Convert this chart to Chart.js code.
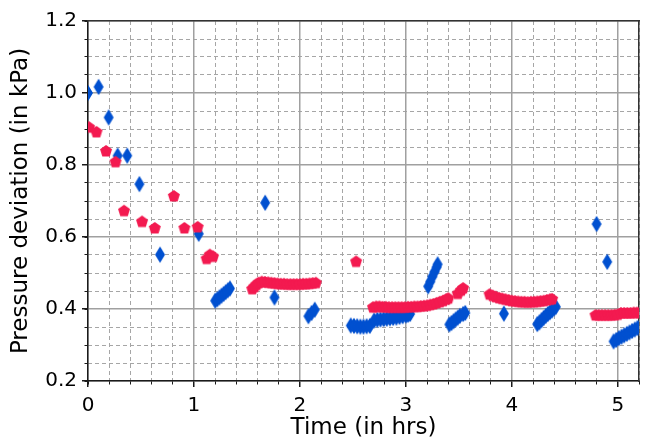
<!DOCTYPE html>
<html>
<head>
<meta charset="utf-8">
<script src="https://cdn.jsdelivr.net/npm/chart.js@4"></script>
<style>
  html, body { margin: 0; padding: 0; background: #fff; }
  canvas { display: block; }
</style>
</head>
<body>
<canvas id="myChart" width="646" height="442"></canvas>
<script>
// red pentagons (time in hrs, pressure deviation in kPa)
const redTime = [
  0.01, 0.08, 0.17, 0.26, 0.34, 0.51, 0.63, 0.81, 0.91, 1.035, 1.12, 1.15, 1.18,
  1.55, 1.57, 1.59, 1.61, 1.64, 1.67, 1.70, 1.73, 1.76, 1.79, 1.82, 1.85, 1.88,
  1.91, 1.94, 1.97, 2.00, 2.03, 2.06, 2.09, 2.12, 2.15,
  2.53,
  2.69, 2.72, 2.75, 2.78, 2.81, 2.84, 2.87, 2.90, 2.93, 2.96, 2.99, 3.02, 3.05,
  3.08, 3.11, 3.14, 3.17, 3.20, 3.23, 3.26, 3.29, 3.32, 3.35, 3.38, 3.40,
  3.49, 3.52, 3.54,
  3.79, 3.82, 3.85, 3.88, 3.91, 3.94, 3.97, 4.00, 4.03, 4.06, 4.09, 4.12, 4.15,
  4.18, 4.21, 4.24, 4.27, 4.30, 4.33, 4.36, 4.38,
  4.79, 4.82, 4.85, 4.88, 4.91, 4.94, 4.97, 5.00, 5.03, 5.06, 5.09, 5.12, 5.15,
  5.18, 5.21
];
const redPressure = [
  0.905, 0.892, 0.839, 0.809, 0.673, 0.643, 0.625, 0.714, 0.625, 0.628, 0.540, 0.551, 0.546,
  0.456, 0.462, 0.468, 0.473, 0.476, 0.475, 0.474, 0.473, 0.472, 0.471, 0.470, 0.470, 0.469,
  0.469, 0.469, 0.469, 0.469, 0.470, 0.470, 0.471, 0.472, 0.473,
  0.532,
  0.405, 0.407, 0.407, 0.406, 0.406, 0.405, 0.405, 0.405, 0.405, 0.405, 0.405, 0.406, 0.406,
  0.407, 0.407, 0.408, 0.409, 0.410, 0.412, 0.414, 0.417, 0.420, 0.423, 0.427, 0.430,
  0.443, 0.452, 0.458,
  0.441, 0.437, 0.434, 0.431, 0.429, 0.427, 0.425, 0.423, 0.422, 0.421, 0.420, 0.420, 0.419,
  0.420, 0.420, 0.421, 0.422, 0.423, 0.425, 0.427, 0.428,
  0.383, 0.383, 0.383, 0.383, 0.383, 0.383, 0.384, 0.385, 0.389, 0.389, 0.389, 0.389, 0.390,
  0.390, 0.390
];

// blue thin diamonds
const blueTime = [
  0.0, 0.10, 0.195, 0.28, 0.37, 0.485, 0.68, 1.045,
  1.20, 1.22, 1.24, 1.26, 1.28, 1.30, 1.32, 1.34,
  1.672, 1.76, 2.08, 2.11, 2.14,
  2.48, 2.51, 2.54, 2.57, 2.60, 2.63, 2.66,
  2.70, 2.73, 2.76, 2.79, 2.82, 2.85, 2.88, 2.91, 2.94, 2.97, 3.00, 3.02, 3.04,
  3.21, 3.23, 3.25, 3.27, 3.29, 3.30,
  3.41, 3.43, 3.45, 3.47, 3.49, 3.51, 3.54, 3.56,
  3.925,
  4.24, 4.26, 4.28, 4.30, 4.32, 4.34, 4.36, 4.38, 4.40, 4.415,
  4.80, 4.90,
  4.96, 4.985, 5.01, 5.035, 5.06, 5.085, 5.11, 5.135, 5.16, 5.185, 5.21
];
const bluePressure = [
  1.000, 1.017, 0.932, 0.826, 0.826, 0.747, 0.551, 0.609,
  0.423, 0.427, 0.432, 0.437, 0.442, 0.447, 0.452, 0.457,
  0.695, 0.432, 0.380, 0.389, 0.398,
  0.354, 0.353, 0.352, 0.351, 0.351, 0.352, 0.353,
  0.368, 0.370, 0.371, 0.372, 0.373, 0.374, 0.375, 0.376, 0.378, 0.380, 0.382, 0.384, 0.386,
  0.463, 0.476, 0.490, 0.503, 0.516, 0.524,
  0.357, 0.361, 0.366, 0.371, 0.376, 0.381, 0.386, 0.389,
  0.387,
  0.358, 0.363, 0.369, 0.375, 0.381, 0.386, 0.391, 0.396, 0.402, 0.406,
  0.636, 0.531,
  0.310, 0.314, 0.319, 0.323, 0.327, 0.331, 0.335, 0.339, 0.343, 0.347, 0.351
];

const xTitle = "Time (in hrs)";
const yTitle = "Pressure deviation (in kPa)";

const redColor = "#f31a50";
const blueColor = "#0050d0";
const majorGrid = "#a0a0a0";
const minorGrid = "#a6a6a6";
const axisColor = "#1a1a1a";
const tickFont = { family: "DejaVu Sans", size: 20 };
const titleFont = { family: "DejaVu Sans", size: 23 };

function makePentagon(color) {
  const c = document.createElement("canvas");
  c.width = 14;
  c.height = 14;
  const g = c.getContext("2d");
  const r = 6.3;
  g.beginPath();
  for (let i = 0; i < 5; i++) {
    const a = -Math.PI / 2 + (i * 2 * Math.PI) / 5;
    const px = 7 + r * Math.cos(a);
    const py = 7.3 + r * Math.sin(a);
    if (i === 0) g.moveTo(px, py);
    else g.lineTo(px, py);
  }
  g.closePath();
  g.fillStyle = color;
  g.fill();
  return c;
}

function makeThinDiamond(color) {
  const c = document.createElement("canvas");
  c.width = 12;
  c.height = 18;
  const g = c.getContext("2d");
  g.beginPath();
  g.moveTo(6, 0.8);
  g.lineTo(11, 9);
  g.lineTo(6, 17.2);
  g.lineTo(1, 9);
  g.closePath();
  g.fillStyle = color;
  g.fill();
  return c;
}

function isWhole(v, step) {
  const q = v / step;
  return Math.abs(q - Math.round(q)) < 1e-6;
}

function toPoints(xs, ys) {
  return xs.map((x, i) => ({ x: x, y: ys[i] }));
}

const ctx = document.getElementById("myChart");

new Chart(ctx, {
  type: "scatter",
  data: {
    datasets: [
      {
        label: "red",
        data: toPoints(redTime, redPressure),
        pointStyle: makePentagon(redColor),
        pointRadius: 6,
        backgroundColor: redColor,
        borderColor: redColor,
        clip: 0,
      },
      {
        label: "blue",
        data: toPoints(blueTime, bluePressure),
        pointStyle: makeThinDiamond(blueColor),
        pointRadius: 6,
        backgroundColor: blueColor,
        borderColor: blueColor,
        clip: 0,
      },
    ],
  },
  options: {
    responsive: false,
    animation: false,
    devicePixelRatio: 1,
    layout: { padding: { left: 0, top: 21, right: 2, bottom: 0 } },
    plugins: { legend: { display: false }, tooltip: { enabled: false } },
    scales: {
      xMinor: {
        type: "linear",
        position: "bottom",
        weight: 0,
        min: 0,
        max: 5.2,
        ticks: { display: false, stepSize: 0.2 },
        grid: {
          color: (c) => (isWhole(c.tick.value, 1) ? "rgba(0,0,0,0)" : minorGrid),
          lineWidth: 1,
          tickLength: 3.5,
          tickColor: axisColor,
          tickWidth: 1,
        },
        border: { display: false, dash: [4, 3] },
        afterFit: (s) => { s.height = 0; },
      },
      yMinor: {
        type: "linear",
        position: "left",
        weight: 0,
        min: 0.2,
        max: 1.2,
        ticks: { display: false, stepSize: 0.05 },
        grid: {
          color: (c) => (isWhole(c.tick.value, 0.2) ? "rgba(0,0,0,0)" : minorGrid),
          lineWidth: 1,
          tickLength: 3.5,
          tickColor: axisColor,
          tickWidth: 1,
        },
        border: { display: false, dash: [4, 3] },
        afterFit: (s) => { s.width = 0; },
      },
      x: {
        type: "linear",
        position: "bottom",
        weight: 1,
        min: 0,
        max: 5.2,
        ticks: {
          stepSize: 1,
          includeBounds: false,
          color: "#000",
          font: tickFont,
          padding: 7,
          maxRotation: 0,
          callback: (v) => (isWhole(v, 1) ? String(Math.round(v)) : ""),
        },
        grid: {
          color: majorGrid,
          lineWidth: 1.5,
          tickLength: 6,
          tickColor: axisColor,
          tickWidth: 1.5,
        },
        border: { display: true, color: axisColor, width: 1.5 },
        title: {
          display: true,
          text: xTitle,
          color: "#000",
          font: titleFont,
          padding: { top: 0, bottom: 0 },
        },
        afterFit: (s) => { s.height = 61; },
      },
      y: {
        type: "linear",
        position: "left",
        weight: 1,
        min: 0.2,
        max: 1.2,
        ticks: {
          stepSize: 0.2,
          color: "#000",
          font: tickFont,
          padding: 5,
          callback: (v) => v.toFixed(1),
        },
        grid: {
          color: majorGrid,
          lineWidth: 1.5,
          tickLength: 6,
          tickColor: axisColor,
          tickWidth: 1.5,
        },
        border: { display: true, color: axisColor, width: 1.5 },
        title: {
          display: true,
          text: yTitle,
          color: "#000",
          font: titleFont,
          padding: { top: 7, bottom: 0 },
        },
        afterFit: (s) => { s.width = 88; },
      },
      xTop: {
        type: "linear",
        position: "top",
        min: 0,
        max: 5.2,
        ticks: { display: false },
        grid: { display: false },
        border: { display: true, color: "#333", width: 1.5 },
        afterFit: (s) => { s.height = 0; },
      },
      yRight: {
        type: "linear",
        position: "right",
        min: 0.2,
        max: 1.2,
        ticks: { display: false },
        grid: { display: false },
        border: { display: true, color: "#333", width: 1.5 },
        afterFit: (s) => { s.width = 0; },
      },
    },
  },
});
</script>
</body>
</html>
